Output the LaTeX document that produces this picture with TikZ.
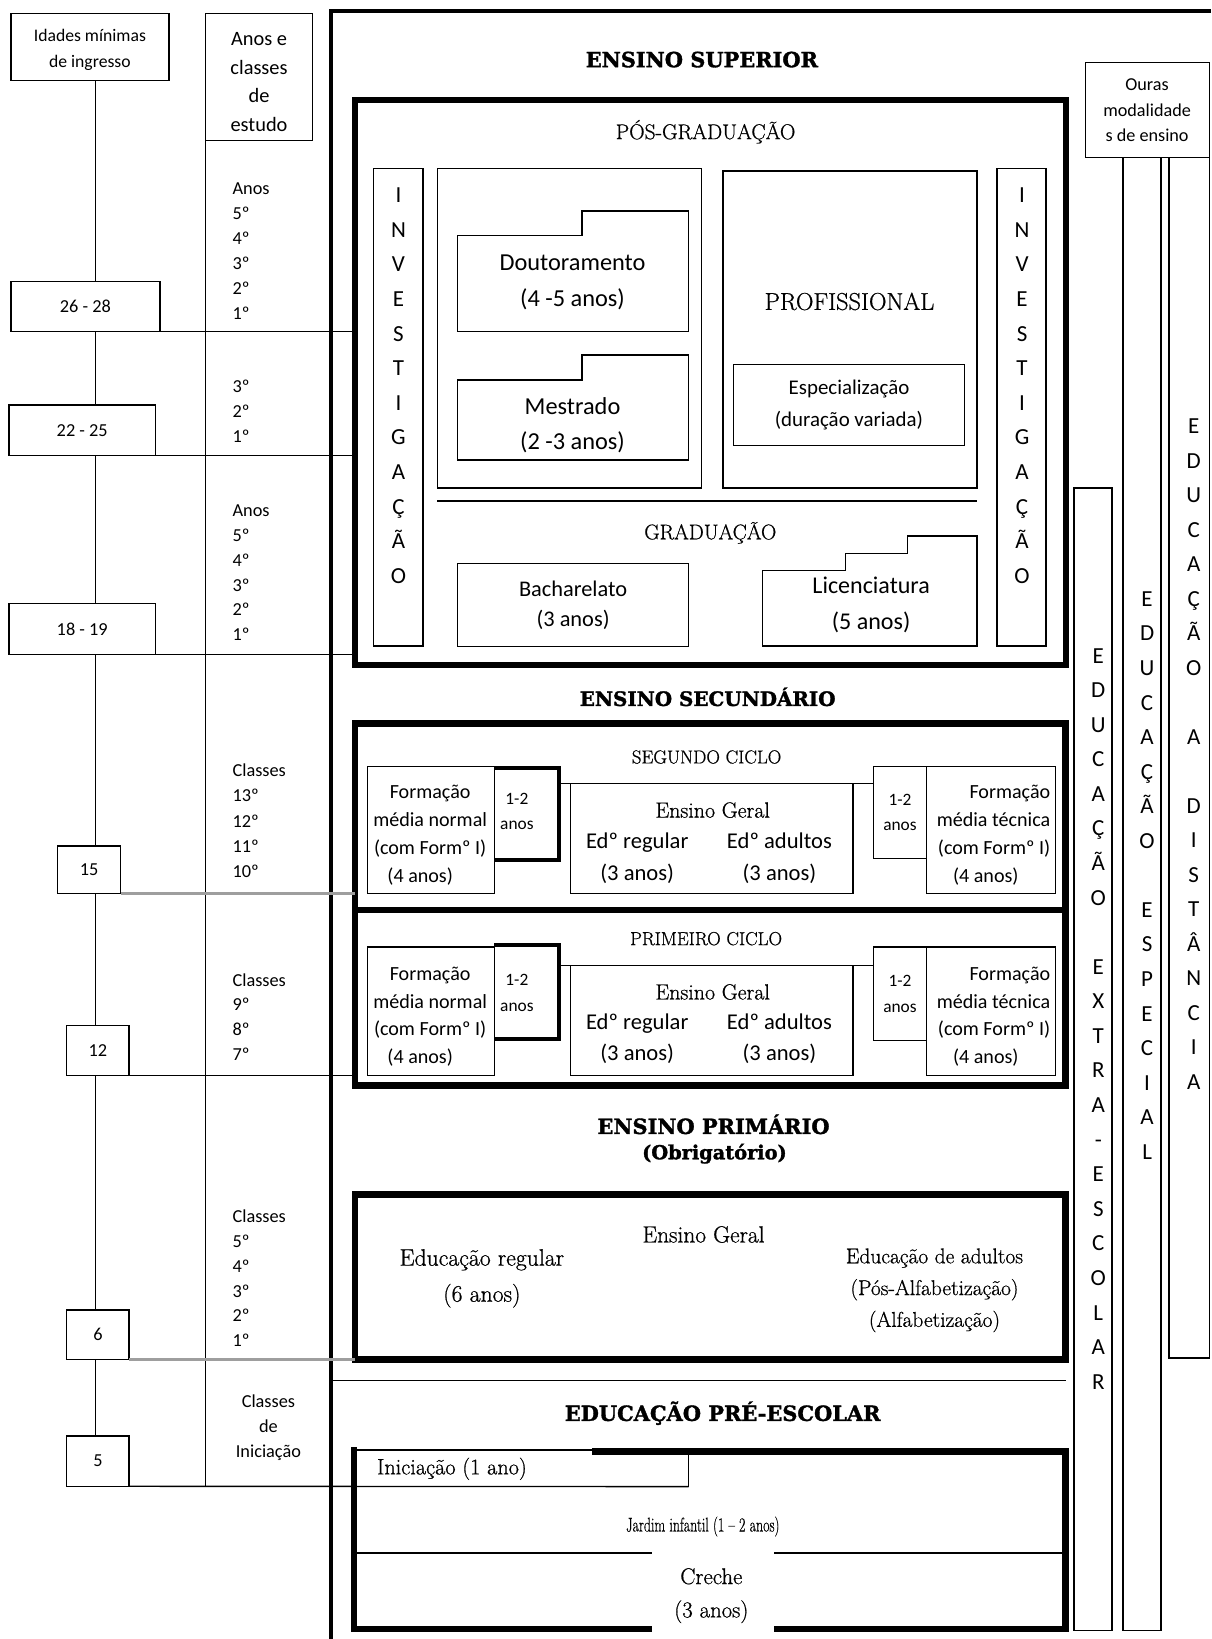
\documentclass[tikz,border=0pt]{standalone}
\usepackage{fontspec}
\newfontfamily\calfont{Carlito}
\newfontfamily\hdfont{DejaVu Serif}[FakeBold=1.6]
\newfontfamily\rmx{Latin Modern Roman}[FakeBold=0.7]
\newcommand\fsz[2]{\fontsize{#1pt}{#2pt}\selectfont}
\begin{document}
\begin{tikzpicture}[x=1pt,y=-1pt,
  thin/.style={line width=1.3pt},
  bx/.style={draw, line width=1.3pt, inner sep=0pt, outer sep=0pt, anchor=north west, align=center},
  hbx/.style={draw, line width=6pt, inner sep=0pt, outer sep=0pt, anchor=north west},
  heavy/.style={line width=6pt},
  anosthick/.style={line width=3.8pt},
  greyln/.style={line width=2.5pt, draw=black!38},
  txt/.style={inner sep=0pt, align=center},
  sans/.style 2 args={font=\calfont\fsz{#1}{#2}},
  serif/.style 2 args={font=\rmx\fsz{#1}{#2}},
  hd/.style={inner sep=0pt, align=center, font=\hdfont\bfseries\fsz{#1}{#1}},
  vl/.style={inner sep=0pt, anchor=base, font=\calfont\fsz{22}{22}},
  lbl/.style={inner sep=0pt, align=left, anchor=west},
  age/.style={draw, fill=white, line width=1.3pt, inner sep=0pt, outer sep=0pt, anchor=north west, font=\calfont\fsz{17.5}{20}}
]
\useasboundingbox (0,0) rectangle (1159,1568);
\fill[white] (0,0) rectangle (1159,1568);

% ---------------- left columns ----------------
\coordinate (vx) at (91.6,0);
\node[bx, minimum width=151.2pt, minimum height=64.1pt] (idades) at (10.5,12.8) {};
\node[txt, sans={16.9}{24.3}] (idadesT) at (86,47.6) {Idades mínimas\\de ingresso};
\node[bx, minimum width=102.1pt, minimum height=121.8pt] (anosbox) at (196.8,12.8) {};
\node[txt, sans={19.5}{27.3}] (anosT) at (247.8,78.6) {Anos e\\classes\\de\\estudo};

\node[age, minimum width=142.5pt, minimum height=48.4pt] (a2628) at (10.5,269) {26 - 28};
\node[age, minimum width=140.1pt, minimum height=48.3pt] (a2225) at (8.6,387.5) {22 - 25};
\node[age, minimum width=140.1pt, minimum height=48.7pt] (a1819) at (8.6,577.6) {18 - 19};
\node[age, minimum width=60.3pt, minimum height=45.8pt] (a15) at (55.2,809.2) {15};
\node[age, minimum width=59.7pt, minimum height=48pt] (a12) at (63.8,981) {12};
\node[age, minimum width=59.7pt, minimum height=47pt] (a6) at (63.8,1253.3) {6};
\node[age, minimum width=59.7pt, minimum height=48.2pt] (a5) at (63.8,1373.7) {5};

\draw[thin] (idades.south -| vx) -- (a2628.north -| vx);
\draw[thin] (a2628.south -| vx) -- (a2225.north -| vx);
\draw[thin] (a2225.south -| vx) -- (a1819.north -| vx);
\draw[thin] (a1819.south -| vx) -- (a15.north -| vx);
\draw[thin] (a15.south -| vx) -- (a12.north -| vx);
\draw[thin] (a12.south -| vx) -- (a6.north -| vx);
\draw[thin] (a6.south -| vx) -- (a5.north -| vx);
\draw[thin] (anosbox.south west) -- (anosbox.south west |- a5.south);

\node[lbl, sans={17.5}{23.94}] (l1) at (222.3,240.2) {Anos\\5º\\4º\\3º\\2º\\1º};
\node[lbl, sans={17.5}{24.1}] (l2) at (222.3,393.7) {3º\\2º\\1º};
\node[lbl, sans={17.5}{23.84}] (l3) at (222.3,547.9) {Anos\\5º\\4º\\3º\\2º\\1º};
\node[lbl, sans={17.5}{24.1}] (l4) at (222.3,785.2) {Classes\\13º\\12º\\11º\\10º};
\node[lbl, sans={17.5}{23.5}] (l5) at (222.3,972.8) {Classes\\9º\\8º\\7º};
\node[lbl, sans={17.5}{23.66}] (l6) at (222.3,1222.9) {Classes\\5º\\4º\\3º\\2º\\1º};
\node[txt, sans={17.5}{24}] (l7) at (256.8,1366) {Classes\\de\\Iniciação};

% ---------------- main frame ----------------
\draw[line width=4pt] (316.3,1568) -- (316.3,10.7) -- (1159,10.7);

% ---------------- ensino superior ----------------
\node[hd=20] (hES) at (671.5,57) {ENSINO SUPERIOR};
\node[hbx, minimum width=679.7pt, minimum height=541pt] (es) at (339.8,95.5) {};
\node[txt, serif={20.5}{20.5}] (pos) at (675,126) {PÓS-GRADUAÇÃO};
\node[bx, minimum width=47.2pt, minimum height=457pt] (invL) at (357.3,161) {};
\node[bx, minimum width=46.9pt, minimum height=457pt] (invR) at (953.8,161) {};
\foreach \l/\i in {I/0,N/1,V/2,E/3,S/4,T/5,I/6,G/7,A/8,Ç/9,Ã/10,O/11}{
  \node[vl] (ivl\i) at (381.2,186.7+33.13*\i+7.1) {\l};
  \node[vl] (ivr\i) at (977.8,186.7+33.13*\i+7.1) {\l};
}
\node[bx, minimum width=252.4pt, minimum height=306pt] (acad) at (418.5,161) {};
\node[bx, minimum width=243.1pt, minimum height=303.4pt] (prof) at (691.6,163.6) {};
\draw[thin] (437.7,225.6) -- (556.7,225.6) -- (556.7,202) -- (658.8,202) -- (658.8,317.4) -- (437.7,317.4) -- cycle;
\node[txt, sans={23.3}{34.1}] (dout) at (547.7,270) {Doutoramento\\(4 -5 anos)};
\draw[thin] (437.7,363.6) -- (556.7,363.6) -- (556.7,339.7) -- (658.8,339.7) -- (658.8,440) -- (437.7,440) -- cycle;
\node[txt, sans={23.3}{34.2}] (mest) at (547.7,406.7) {Mestrado\\(2 -3 anos)};
\node[txt, serif={23.3}{23.3}] (profT) at (812.7,288.4) {PROFISSIONAL};
\node[bx, minimum width=220.8pt, minimum height=77pt, sans={20}{30}] (espec) at (701.8,349) {Especialização\\(duração variada)};
\draw[thin] (acad.south west |- 0,479.4) -- (prof.south east |- 0,479.4);
\node[txt, serif={20.3}{20.3}] (grad) at (679.5,509.7) {GRADUAÇÃO};
\node[bx, minimum width=221.1pt, minimum height=79.1pt, sans={21.4}{29}] (bach) at (437.7,539.2) {Bacharelato\\(3 anos)};
\draw[thin] (729.6,546) -- (808.7,546) -- (808.7,529.8) -- (868.3,529.8) -- (868.3,512.7) -- (934.7,512.7) -- (934.7,618) -- (729.6,618) -- cycle;
\node[txt, sans={23}{34.2}] (lic) at (833.4,578.9) {Licenciatura\\(5 anos)};

% ---------------- ensino secundario ----------------
\node[hd=19] (hSec) at (677,666.7) {ENSINO SECUNDÁRIO};
\node[hbx, minimum width=679.5pt, minimum height=346.2pt] (sec) at (339.8,692.2) {};
\draw[heavy] (339.8,870.5) -- (1019.3,870.5);

% segundo ciclo
\node[txt, serif={18}{18}] (seg) at (676,724.2) {SEGUNDO CICLO};
\node[bx, minimum width=121.5pt, minimum height=122pt] (fl2) at (351.5,733) {};
\node[txt, sans={19.2}{26.6}] (fl2T) at (411.5,799.1) {Formação\\média normal\\(com Formº I)\\(4 anos)\hspace*{19pt}};
\node[inner sep=0pt, outer sep=0pt, anchor=north west, minimum width=61.4pt, minimum height=88.6pt] (an2L) at (473,734.4) {};
\draw[anosthick] (an2L.north west) -- (an2L.north east) -- (an2L.south east) -- (an2L.south west);
\node[txt, sans={16.6}{24.6}] (an2LT) at (494.5,776.3) {1-2\\anos};
\node[bx, minimum width=270.4pt, minimum height=105.3pt] (eg2) at (545.6,749.7) {};
\draw[thin] (an2L.north east |- eg2.north) -- (eg2.north west);
\node[txt, serif={21}{21}] (eg2T) at (681.8,775) {Ensino Geral};
\node[txt, sans={21.6}{30}] (eg2a) at (609.6,821) {Edº regular\\(3 anos)};
\node[txt, sans={21.6}{30}] (eg2b) at (745.7,821) {Edº adultos\\(3 anos)};
\node[bx, minimum width=50.4pt, minimum height=88.4pt, sans={16.6}{24.6}] (an2R) at (835.8,733) {1-2\\anos};
\draw[thin] (eg2.north east) -- (eg2.north east -| an2R.west);
\node[bx, minimum width=123.5pt, minimum height=122pt] (ft2) at (886.2,733) {};
\node[inner sep=0pt, align=right, anchor=east, sans={19.2}{26.6}] (ft2T) at (1004.9,799) {Formação\\média técnica\\(com Formº I)\\(4 anos)\hspace*{30.3pt}};

% primeiro ciclo
\node[txt, serif={18}{18}] (prim1) at (675.5,898) {PRIMEIRO CICLO};
\node[bx, minimum width=121.5pt, minimum height=122.8pt] (fl1) at (351.5,906) {};
\node[txt, sans={19.2}{26.6}] (fl1T) at (411.5,972.6) {Formação\\média normal\\(com Formº I)\\(4 anos)\hspace*{19pt}};
\node[inner sep=0pt, outer sep=0pt, anchor=north west, minimum width=61.4pt, minimum height=89.3pt] (an1L) at (473,904.4) {};
\draw[anosthick] (an1L.north west) -- (an1L.north east) -- (an1L.south east) -- (an1L.south west);
\node[txt, sans={16.6}{24.6}] (an1LT) at (494.5,949.9) {1-2\\anos};
\node[bx, minimum width=270.4pt, minimum height=105.3pt] (eg1) at (545.6,923.5) {};
\draw[thin] (an1L.north east |- eg1.north) -- (eg1.north west);
\node[txt, serif={21}{21}] (eg1T) at (681.8,949) {Ensino Geral};
\node[txt, sans={21.6}{30}] (eg1a) at (609.6,993.7) {Edº regular\\(3 anos)};
\node[txt, sans={21.6}{30}] (eg1b) at (745.7,993.7) {Edº adultos\\(3 anos)};
\node[bx, minimum width=50.4pt, minimum height=89.3pt, sans={16.6}{24.6}] (an1R) at (835.8,906) {1-2\\anos};
\draw[thin] (eg1.north east) -- (eg1.north east -| an1R.west);
\node[bx, minimum width=123.5pt, minimum height=122.8pt] (ft1) at (886.2,906) {};
\node[inner sep=0pt, align=right, anchor=east, sans={19.2}{26.6}] (ft1T) at (1004.9,972.6) {Formação\\média técnica\\(com Formº I)\\(4 anos)\hspace*{30.3pt}};

% ---------------- ensino primario ----------------
\node[hd=20] (hPrim) at (682.6,1075.7) {ENSINO PRIMÁRIO};
\node[hd=18.5] (hObr) at (683.5,1103.7) {(Obrigatório)};
\node[hbx, minimum width=679.5pt, minimum height=157.8pt] (prim) at (339.8,1142.7) {};
\node[txt, serif={22.4}{22.4}] (pgeral) at (673,1181) {Ensino Geral};
\node[txt, serif={22.7}{34.5}] (preg) at (461,1223) {Educação regular\\(6 anos)};
\node[txt, serif={20.5}{30.4}] (padu) at (894,1234.4) {Educação de adultos\\(Pós-Alfabetização)\\(Alfabetização)};

\draw[thin] (316.3,1320.7) -- (1020.2,1320.7);

% ---------------- pre-escolar ----------------
\node[hd=20] (hPre) at (691.4,1352) {EDUCAÇÃO PRÉ-ESCOLAR};
\draw[line width=1.8pt] (338.8,1387) -- (566.2,1387);
\draw[heavy] (566.2,1388.5) -- (1019.3,1388.5) -- (1019.3,1558.3) -- (338.8,1558.3) -- (338.8,1384.5);
\coordinate (inibr) at (658.8,1422.2);
\draw[thin] (338.8,1422.2) -- (inibr) -- (658.8,1388.5);
\node[inner sep=0pt, anchor=west, serif={21.3}{21.3}] (ini) at (360.5,1405.2) {Iniciação (1 ano)};
\node[txt, serif={19}{19}] (jard) at (672.3,1460.4) {\scalebox{0.7}[1]{Jardim infantil (1 – 2 anos)}};
\draw[thin] (341.3,1485.6) -- (1019.3,1485.6);
\fill[white] (623.7,1482) rectangle (740.1,1566);
\node[txt, serif={21.8}{31.9}] (creche) at (680.5,1526.5) {Creche\\(3 anos)};

% ---------------- connectors from ages ----------------
\draw[thin] (a2628.south east) -- (a2628.south east -| es.west);
\draw[thin] (a2225.south east) -- (a2225.south east -| es.west);
\draw[thin] (a1819.south east) -- (a1819.south east -| es.west);
\draw[greyln] (a15.south east) -- (a15.south east -| sec.west);
\draw[thin] (a12.south east) -- (a12.south east -| sec.west);
\draw[greyln] (a6.south east) -- (a6.south east -| prim.west);
\draw[thin] (a5.south east) -- (inibr);

% ---------------- outras modalidades ----------------
\node[bx, minimum width=118.6pt, minimum height=90.6pt] (outras) at (1038.4,60) {};
\node[txt, sans={17.4}{24.45}] (outrasT) at (1097.4,105.8) {Ouras\\modalidade\\s de ensino};
\node[bx, minimum width=36.4pt, minimum height=1409.4pt] (espBox) at (1074.4,150.6) {};
\node[bx, minimum width=38.6pt, minimum height=1148.4pt] (distBox) at (1118.4,150.6) {};
\node[bx, minimum width=36.4pt, minimum height=1093pt] (extBox) at (1027.5,467) {};
\foreach \l/\i in {E/0,D/1,U/2,C/3,A/4,Ç/5,Ã/6,O/7,E/9,X/10,T/11,R/12,A/13,-/14,E/15,S/16,C/17,O/18,L/19,A/20,R/21}
  \node[vl] (exl\i) at (1050.7,627.2+33.08*\i+7.1) {\l};
\foreach \l/\i in {E/0,D/1,U/2,C/3,A/4,Ç/5,Ã/6,O/7,E/9,S/10,P/11,E/12,C/13,I/14,A/15,L/16}
  \node[vl] (esl\i) at (1097.4,573+33.06*\i+7.1) {\l};
\foreach \l/\i in {E/0,D/1,U/2,C/3,A/4,Ç/5,Ã/6,O/7,A/9,D/11,I/12,S/13,T/14,Â/15,N/16,C/17,I/18,A/19}
  \node[vl] (dsl\i) at (1142,408+33*\i+7.1) {\l};
\end{tikzpicture}
\end{document}
